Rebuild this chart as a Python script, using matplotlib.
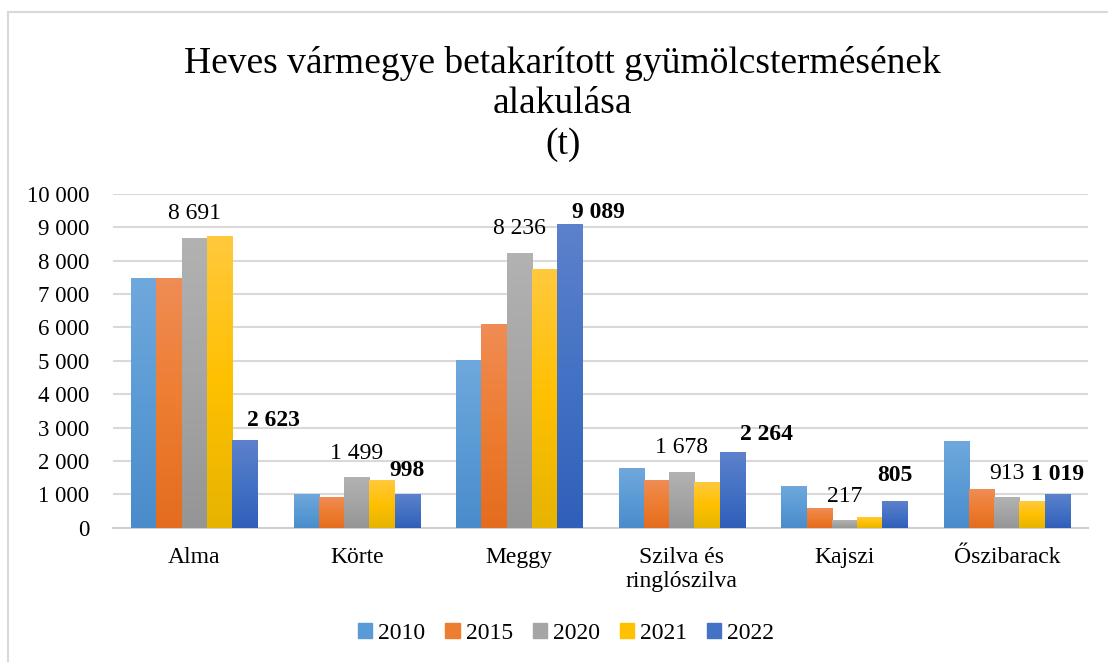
import numpy as np
import matplotlib.pyplot as plt
from matplotlib.colors import LinearSegmentedColormap
from matplotlib.ticker import FuncFormatter
from matplotlib.lines import Line2D

plt.rcParams["font.family"] = ["Liberation Serif", "DejaVu Serif"]

categories = ["Alma", "Körte", "Meggy", "Szilva és\nringlószilva", "Kajszi", "Őszibarack"]
years = ["2010", "2015", "2020", "2021", "2022"]

v2010 = [7480, 1010, 5030, 1790, 1250, 2600]
v2015 = [7480, 900, 6100, 1430, 590, 1160]
v2020 = [8691, 1499, 8236, 1678, 217, 913]
v2021 = [8741, 1430, 7750, 1370, 320, 800]
v2022 = [2623, 998, 9089, 2264, 805, 1019]
series = [v2010, v2015, v2020, v2021, v2022]

# (bottom, middle, top) colours of the gradient fill
colors = [
    ("#4A8BCB", "#5B9BD5", "#6FA8DC"),
    ("#E46C1E", "#ED7D31", "#F08C55"),
    ("#959595", "#A5A5A5", "#B2B2B2"),
    ("#E6B400", "#FFC000", "#FFC93D"),
    ("#305FBA", "#4472C4", "#5D81CC"),
]

# pixel shifts of the bold 2022 labels (dx, dy above the bar top)
bold_shift = [(29, 20), (0, 24), (29, 12), (34, 18), (0, 25), (0, 19)]


def fmt(v, pos=None):
    return f"{int(v):,}".replace(",", " ")


fig = plt.figure(figsize=(11.08, 6.62), dpi=100)
ax = fig.add_axes([0.102, 0.2029, 0.880, 0.504])

x = np.arange(len(categories))
width = 0.155
grad = np.linspace(0, 1, 256).reshape(-1, 1)

for i, (year, vals) in enumerate(zip(years, series)):
    lo, mid, hi = colors[i]
    cmap = LinearSegmentedColormap.from_list(f"g{year}", [lo, mid, hi])
    xs = x + (i - 2) * width
    bars = ax.bar(xs, vals, width, color=mid, label=year, zorder=2)
    for b in bars:
        ax.imshow(grad, extent=[b.get_x(), b.get_x() + b.get_width(), 0, b.get_height()],
                  cmap=cmap, aspect="auto", origin="lower", zorder=3)

for j in range(len(categories)):
    ax.annotate(fmt(v2020[j]), (x[j], v2020[j]), xytext=(0, 24),
                textcoords="offset pixels", ha="center", va="center",
                fontsize=17, zorder=5)
    dx, dy = bold_shift[j]
    ax.annotate(fmt(v2022[j]), (x[j] + 2 * width, v2022[j]), xytext=(dx, dy),
                textcoords="offset pixels", ha="center", va="center",
                fontsize=17, fontweight="bold", zorder=5)

ax.set_xlim(-0.5, len(categories) - 0.5)
ax.set_ylim(0, 10000)
ax.set_yticks(np.arange(0, 10001, 1000))
ax.yaxis.set_major_formatter(FuncFormatter(fmt))
ax.set_xticks(x)
ax.set_xticklabels(categories)
ax.tick_params(axis="both", length=0, labelsize=16.5)
ax.tick_params(axis="x", pad=14, labelsize=17)
ax.tick_params(axis="y", pad=17)
ax.grid(axis="y", color="#D9D9D9", linewidth=1.5, zorder=0)
ax.set_axisbelow(True)
for s in ["top", "right", "left"]:
    ax.spines[s].set_visible(False)
ax.spines["bottom"].set_color("#D0D0D0")
ax.spines["bottom"].set_linewidth(1.5)

fig.text(0.508, 0.843, "Heves vármegye betakarított gyümölcstermésének\nalakulása\n(t)",
         ha="center", va="center", fontsize=27, linespacing=1.22)

handles = [plt.Rectangle((0, 0), 1, 1, color=c[1]) for c in colors]
fig.legend(handles, years, loc="center", bbox_to_anchor=(0.511, 0.043), ncol=5,
           frameon=False, fontsize=17, handlelength=0.6, handleheight=0.6,
           handletextpad=0.25, columnspacing=0.85)

# chart area border
fig.add_artist(Line2D([8 / 1108, 8 / 1108], [0, 1 - 12 / 662], transform=fig.transFigure,
                      color="#D9D9D9", linewidth=1.5))
fig.add_artist(Line2D([8 / 1108, 1], [1 - 12 / 662, 1 - 12 / 662], transform=fig.transFigure,
                      color="#D9D9D9", linewidth=1.5))

fig.savefig("out.png", dpi=100)
